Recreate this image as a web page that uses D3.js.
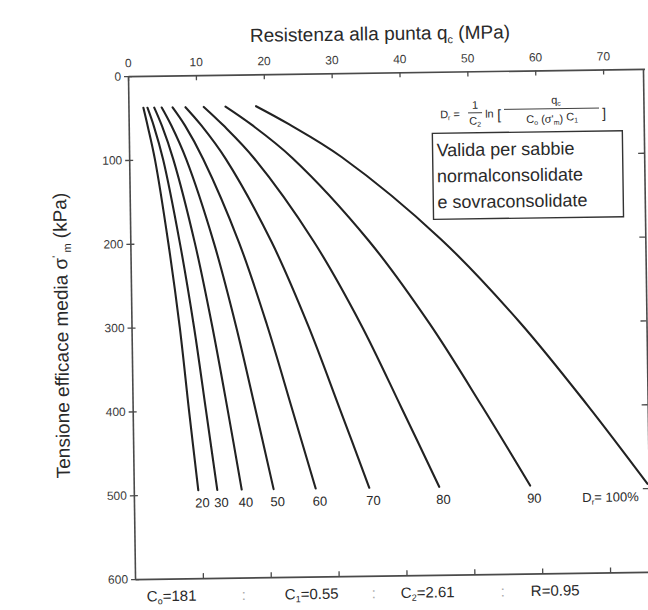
<!DOCTYPE html>
<html>
<head>
<meta charset="utf-8">
<script src="https://cdn.jsdelivr.net/npm/d3@7"></script>
<style>
  html, body { margin: 0; padding: 0; background: #ffffff; }
  svg { display: block; font-family: "Liberation Sans", Arial, Helvetica, sans-serif; }
</style>
</head>
<body>
<svg id="chart" width="648" height="610"></svg>
<script>
// Mean effective stress (kPa) at which each curve is sampled
const stressKPa = [38, 60, 100, 200, 300, 400, 495];

// Cone tip resistance qc (MPa) for each relative density Dr
const qcDr20  = [2.2, 2.8, 3.8, 5.6, 7.1, 8.3, 9.5];
const qcDr30  = [2.8, 3.7, 5.0, 7.3, 9.2, 10.8, 12.3];
const qcDr40  = [3.8, 4.9, 6.5, 9.5, 11.9, 14.0, 15.9];
const qcDr50  = [4.9, 6.3, 8.4, 12.3, 15.4, 18.1, 20.6];
const qcDr60  = [6.5, 8.3, 10.9, 16.0, 20.0, 23.5, 26.8];
const qcDr70  = [8.4, 10.7, 14.2, 20.8, 26.0, 30.5, 34.7];
const qcDr80  = [11.1, 13.9, 18.4, 27.0, 33.8, 39.6, 45.0];
const qcDr90  = [14.3, 18.1, 24.0, 35.1, 43.9, 51.5, 58.4];
const qcDr100 = [18.8, 23.6, 31.3, 45.8, 57.2, 67.0, 75.7];

const densities = [20, 30, 40, 50, 60, 70, 80, 90, 100];
const qcSeries = [qcDr20, qcDr30, qcDr40, qcDr50, qcDr60, qcDr70, qcDr80, qcDr90, qcDr100];

// Axis ticks
const qcTicks = [0, 10, 20, 30, 40, 50, 60, 70];
const stressTicks = [0, 100, 200, 300, 400, 500, 600];

// Correlation constants printed under the chart
const constantNames = ["C", "C", "C", "R"];
const constantSubs = ["o", "1", "2", ""];
const constantValues = ["181", "0.55", "2.61", "0.95"];

const svg = d3.select("#chart");

// Plot frame
const frameLeft = 131.5, frameRight = 648, frameTop = 72.5, frameBottom = 575.5;

const x = d3.scaleLinear().domain([0, 76.1]).range([frameLeft, frameRight]);
const y = d3.scaleLinear().domain([0, 600]).range([frameTop, frameBottom]);

const ink = "#2a2a2a";
const axisInk = "#4a4a4a";

// whole sheet sits slightly askew
const g = svg.append("g").attr("transform", "rotate(-0.8, 390, 324)");

// --- axes ---
const topAxis = d3.axisTop(x).tickValues(qcTicks).tickSizeInner(-5).tickSizeOuter(0).tickPadding(9);
const gTop = g.append("g").attr("transform", `translate(0,${frameTop})`).call(topAxis);

const bottomAxis = d3.axisBottom(x).tickValues(qcTicks.slice(1)).tickSizeInner(-5).tickSizeOuter(0).tickFormat("");
const gBottom = g.append("g").attr("transform", `translate(0,${frameBottom})`).call(bottomAxis);

const leftAxis = d3.axisLeft(y).tickValues(stressTicks).tickSizeInner(4).tickSizeOuter(0).tickPadding(3);
const gLeft = g.append("g").attr("transform", `translate(${frameLeft},0)`).call(leftAxis);
gLeft.selectAll(".tick line").attr("x1", 4);

const rightAxis = d3.axisRight(y).tickValues(stressTicks.slice(1, -1)).tickSizeInner(-6).tickSizeOuter(0).tickFormat("");
const gRight = g.append("g").attr("transform", `translate(${frameRight - 1.5},0)`).call(rightAxis);

[gTop, gBottom, gLeft, gRight].forEach(a => {
  a.select(".domain").attr("stroke", axisInk).attr("stroke-width", 1.6);
  a.selectAll(".tick line").attr("stroke", axisInk).attr("stroke-width", 1.3);
  a.selectAll(".tick text").attr("fill", "#3a3a3a").attr("font-size", 12)
    .attr("font-family", "'Liberation Sans', Arial, sans-serif");
});

// --- axis titles ---
const xTitle = g.append("text")
  .attr("x", 384).attr("y", 40)
  .attr("text-anchor", "middle")
  .attr("font-size", 19).attr("fill", ink);
xTitle.append("tspan").text("Resistenza alla punta q");
xTitle.append("tspan").attr("font-size", 11).attr("dy", 4).text("c");
xTitle.append("tspan").attr("dy", -4).text(" (MPa)");

const yTitle = g.append("text")
  .attr("transform", "translate(68,331) rotate(-90)")
  .attr("text-anchor", "middle")
  .attr("font-size", 19).attr("fill", ink);
yTitle.append("tspan").text("Tensione efficace media σ");
yTitle.append("tspan").attr("font-size", 11).attr("dy", -7).text("'");
yTitle.append("tspan").attr("font-size", 11).attr("dy", 11).text(" m");
yTitle.append("tspan").attr("dy", -4).text(" (kPa)");

// --- curves ---
g.append("clipPath").attr("id", "plot-clip")
  .append("rect").attr("x", frameLeft).attr("y", frameTop)
  .attr("width", frameRight - frameLeft).attr("height", frameBottom - frameTop);

const line = d3.line()
  .x(d => x(d.qc))
  .y(d => y(d.s))
  .curve(d3.curveCatmullRom.alpha(0.5));

const curves = densities.map((dr, i) => ({
  dr,
  points: stressKPa.map((s, k) => ({ s, qc: qcSeries[i][k] }))
}));

g.append("g").attr("clip-path", "url(#plot-clip)")
  .selectAll("path")
  .data(curves)
  .join("path")
  .attr("d", d => line(d.points))
  .attr("fill", "none")
  .attr("stroke", "#222")
  .attr("stroke-width", 2.1)
  .attr("stroke-linecap", "round");

// curve labels just below the curve ends
const labelY = y(500) + 13;
const lab = g.append("g").attr("font-size", 13).attr("fill", ink);
curves.forEach(c => {
  const last = c.points[c.points.length - 1];
  if (c.dr < 100) {
    lab.append("text")
      .attr("x", x(last.qc) + 4).attr("y", labelY)
      .attr("text-anchor", "middle")
      .text(c.dr);
  } else {
    const t = lab.append("text")
      .attr("x", x(last.qc) - 9).attr("y", labelY)
      .attr("text-anchor", "end");
    t.append("tspan").text("D");
    t.append("tspan").attr("font-size", 8).attr("dy", 3).text("r");
    t.append("tspan").attr("dy", -3).text("= " + c.dr + "%");
  }
});

// --- formula ---
const f = g.append("g").attr("font-size", 11).attr("fill", ink);
const fD = f.append("text").attr("x", 443).attr("y", 119);
fD.append("tspan").text("D");
fD.append("tspan").attr("font-size", 7).attr("dy", 2).text("r");
fD.append("tspan").attr("dy", -2).text(" =");
f.append("text").attr("x", 478).attr("y", 110).attr("text-anchor", "middle").text("1");
f.append("line").attr("x1", 471).attr("x2", 485).attr("y1", 114).attr("y2", 114).attr("stroke", ink).attr("stroke-width", 0.9);
const fC2 = f.append("text").attr("x", 472).attr("y", 126);
fC2.append("tspan").text("C");
fC2.append("tspan").attr("font-size", 7).attr("dy", 2).text("2");
f.append("text").attr("x", 488).attr("y", 119).text("ln");
f.append("text").attr("x", 500).attr("y", 121).attr("font-size", 14).text("[");
const fq = f.append("text").attr("x", 559).attr("y", 106).attr("text-anchor", "middle");
fq.append("tspan").text("q");
fq.append("tspan").attr("font-size", 7).attr("dy", 2).text("c");
f.append("line").attr("x1", 507).attr("x2", 602).attr("y1", 111).attr("y2", 111).attr("stroke", ink).attr("stroke-width", 0.9);
const fden = f.append("text").attr("x", 555).attr("y", 125).attr("text-anchor", "middle");
fden.append("tspan").text("C");
fden.append("tspan").attr("font-size", 7).attr("dy", 2).text("o");
fden.append("tspan").attr("dy", -2).text(" (σ'");
fden.append("tspan").attr("font-size", 7).attr("dy", 2).text("m");
fden.append("tspan").attr("dy", -2).text(")");
fden.append("tspan").attr("dy", -2).text(" C");
fden.append("tspan").attr("font-size", 7).attr("dy", 2).text("1");
f.append("text").attr("x", 605).attr("y", 121).attr("font-size", 14).text("]");

// --- note box ---
g.append("rect")
  .attr("x", 435).attr("y", 134).attr("width", 190).attr("height", 86)
  .attr("fill", "#fff").attr("stroke", "#333").attr("stroke-width", 1.4);
const noteLines = ["Valida per sabbie", "normalconsolidate", "e sovraconsolidate"];
g.append("g").attr("font-size", 18).attr("fill", ink)
  .selectAll("text").data(noteLines).join("text")
  .attr("x", 439).attr("y", (d, i) => 157 + i * 26)
  .text(d => d);

// --- constants line ---
const constX = [143, 281, 397, 527];
const sepX = [238, 368, 497];
const cg = g.append("g").attr("font-size", 15).attr("fill", ink);
constantNames.forEach((n, i) => {
  const t = cg.append("text").attr("x", constX[i]).attr("y", 598);
  t.append("tspan").text(n);
  if (constantSubs[i]) {
    t.append("tspan").attr("font-size", 9).attr("dy", 3).text(constantSubs[i]);
    t.append("tspan").attr("dy", -3).text("=" + constantValues[i]);
  } else {
    t.append("tspan").text("=" + constantValues[i]);
  }
});
sepX.forEach(sx => cg.append("text").attr("x", sx).attr("y", 598).attr("fill", "#aaa").text(":"));
</script>
</body>
</html>
